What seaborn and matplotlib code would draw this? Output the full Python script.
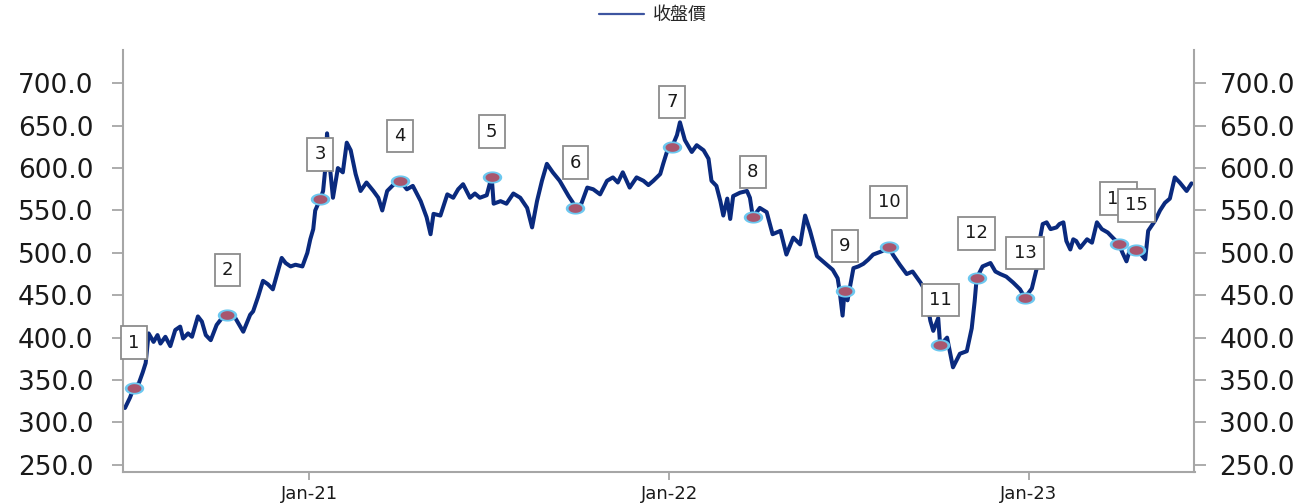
import matplotlib
matplotlib.use("Agg")
import matplotlib.pyplot as plt
import matplotlib.dates as mdates
from matplotlib.lines import Line2D
import numpy as np
import pandas as pd
import seaborn as sns

# ==========================================
# 1. Дані
# ==========================================

dates = [
    "2020-06-28", "2020-07-03", "2020-07-07", "2020-07-12", "2020-07-16", "2020-07-19",
    "2020-07-22", "2020-07-27", "2020-07-31", "2020-08-03", "2020-08-08", "2020-08-13",
    "2020-08-18", "2020-08-23", "2020-08-26", "2020-08-31", "2020-09-04", "2020-09-10",
    "2020-09-14", "2020-09-18", "2020-09-23", "2020-09-29", "2020-10-05", "2020-10-10",
    "2020-10-16", "2020-10-23", "2020-10-26", "2020-11-02", "2020-11-05", "2020-11-10",
    "2020-11-15", "2020-11-20", "2020-11-25", "2020-12-01", "2020-12-04", "2020-12-08",
    "2020-12-13", "2020-12-18", "2020-12-25", "2020-12-30", "2021-01-02", "2021-01-05",
    "2021-01-07", "2021-01-10", "2021-01-12", "2021-01-15", "2021-01-17", "2021-01-19",
    "2021-01-22", "2021-01-25", "2021-01-30", "2021-02-04", "2021-02-08", "2021-02-12",
    "2021-02-17", "2021-02-22", "2021-02-28", "2021-03-07", "2021-03-12", "2021-03-16",
    "2021-03-21", "2021-03-27", "2021-04-03", "2021-04-10", "2021-04-16", "2021-04-24",
    "2021-04-30", "2021-05-04", "2021-05-07", "2021-05-14", "2021-05-21", "2021-05-27",
    "2021-06-01", "2021-06-06", "2021-06-13", "2021-06-18", "2021-06-23", "2021-06-30",
    "2021-07-05", "2021-07-07", "2021-07-14", "2021-07-20", "2021-07-27", "2021-08-03",
    "2021-08-10", "2021-08-15", "2021-08-20", "2021-08-25", "2021-08-30", "2021-09-05",
    "2021-09-12", "2021-09-18", "2021-09-21", "2021-09-25", "2021-09-28", "2021-10-04",
    "2021-10-10", "2021-10-16", "2021-10-23", "2021-10-30", "2021-11-05", "2021-11-10",
    "2021-11-15", "2021-11-22", "2021-11-29", "2021-12-06", "2021-12-11", "2021-12-16",
    "2021-12-23", "2021-12-26", "2021-12-30", "2022-01-04", "2022-01-09", "2022-01-12",
    "2022-01-17", "2022-01-24", "2022-01-29", "2022-02-05", "2022-02-10", "2022-02-13",
    "2022-02-18", "2022-02-22", "2022-02-25", "2022-03-01", "2022-03-04", "2022-03-07",
    "2022-03-14", "2022-03-21", "2022-03-24", "2022-03-27", "2022-04-03", "2022-04-10",
    "2022-04-16", "2022-04-24", "2022-04-30", "2022-05-07", "2022-05-14", "2022-05-19",
    "2022-05-24", "2022-05-31", "2022-06-04", "2022-06-10", "2022-06-16", "2022-06-21",
    "2022-06-23", "2022-06-26", "2022-06-28", "2022-07-01", "2022-07-07", "2022-07-12",
    "2022-07-17", "2022-07-22", "2022-07-27", "2022-08-05", "2022-08-12", "2022-08-16",
    "2022-08-23", "2022-08-30", "2022-09-05", "2022-09-13", "2022-09-18", "2022-09-23",
    "2022-09-26", "2022-10-01", "2022-10-03", "2022-10-10", "2022-10-16", "2022-10-23",
    "2022-10-30", "2022-11-04", "2022-11-07", "2022-11-09", "2022-11-15", "2022-11-23",
    "2022-11-28", "2022-12-03", "2022-12-09", "2022-12-16", "2022-12-23", "2022-12-28",
    "2023-01-04", "2023-01-09", "2023-01-12", "2023-01-15", "2023-01-19", "2023-01-23",
    "2023-01-29", "2023-02-01", "2023-02-05", "2023-02-08", "2023-02-12", "2023-02-15",
    "2023-02-18", "2023-02-22", "2023-03-01", "2023-03-06", "2023-03-11", "2023-03-16",
    "2023-03-22", "2023-03-27", "2023-04-02", "2023-04-06", "2023-04-10", "2023-04-13",
    "2023-04-20", "2023-04-25", "2023-04-29", "2023-05-02", "2023-05-09", "2023-05-14",
    "2023-05-19", "2023-05-24", "2023-05-29", "2023-06-03", "2023-06-10", "2023-06-15",
]

close = [
    317, 329, 341, 346, 359, 370,
    405, 395, 403, 393, 401, 390,
    409, 413, 399, 405, 401, 425,
    419, 403, 397, 415, 424, 427,
    427, 413, 407, 427, 431, 448,
    467, 463, 457, 482, 494, 488,
    484, 486, 484, 500, 516, 528,
    550, 558, 563, 573, 597, 641,
    600, 565, 600, 595, 630, 621,
    593, 573, 583, 573, 565, 550,
    573, 580, 585, 575, 579, 561,
    542, 522, 546, 544, 569, 565,
    575, 581, 565, 570, 565, 568,
    590, 558, 561, 558, 570, 565,
    553, 530, 561, 585, 605, 595,
    585, 573, 567, 560, 553.5, 558,
    577, 575, 569, 585, 589, 583,
    595, 577, 589, 585, 580, 585,
    593, 605, 620, 625, 639, 654,
    633, 619, 627, 621, 611, 585,
    579, 561, 544, 564, 540, 567,
    571, 573, 565, 542, 553, 548,
    522, 526, 498, 518, 510, 544,
    526, 496, 492, 486, 480, 470,
    455, 426, 455, 444, 482, 484,
    487, 492, 498, 502, 507, 498,
    486, 475, 478, 465, 455, 420,
    408, 423, 391, 400, 365, 381,
    384, 411, 443, 470, 484, 488,
    478, 475, 472, 465, 457, 447,
    458, 482, 515, 534, 536, 528,
    530, 534, 536, 514, 504, 516,
    514, 506, 516, 512, 536, 528,
    524, 518, 511, 500, 490, 502,
    503, 498, 492.5, 526, 538, 550,
    559, 564, 589, 583, 573, 582,
]

event_dates = [
    "2020-07-07", "2020-10-10", "2021-01-12", "2021-04-03", "2021-07-05",
    "2021-09-28", "2022-01-04", "2022-03-27", "2022-06-28", "2022-08-12",
    "2022-10-03", "2022-11-09", "2022-12-28", "2023-04-02", "2023-04-20",
]
event_labels = [str(i) for i in range(1, 16)]

y_ticks = [250, 300, 350, 400, 450, 500, 550, 600, 650, 700]

NAVY = "#0a2a7e"
GREY = "#a6a6a6"

# ==========================================
# 2. Стиль
# ==========================================

sns.set_theme(style="white")
plt.rcParams["font.family"] = ["DejaVu Sans", "Noto Sans CJK TC"]

df = pd.DataFrame({"date": pd.to_datetime(dates), "close": close})
ev = df[df["date"].isin(pd.to_datetime(event_dates))].reset_index(drop=True)

# ==========================================
# 3. Графік
# ==========================================

fig = plt.figure(figsize=(13.14, 5.04), dpi=100)
ax = fig.add_axes([123 / 1314, 32 / 504, 1071.5 / 1314, 422 / 504])

sns.lineplot(data=df, x="date", y="close", ax=ax, color=NAVY,
             linewidth=2.9, legend=False, zorder=2)

t = np.linspace(0, 2 * np.pi, 60)
ellipse = np.column_stack([1.6 * np.cos(t), np.sin(t)])
ax.scatter(ev["date"], ev["close"], marker=ellipse, s=14 ** 2,
           color="#6cc8f0", linewidths=0, zorder=3)
ax.scatter(ev["date"], ev["close"], marker=ellipse, s=10 ** 2,
           color="#a8566e", linewidths=0, zorder=4)

for d, v, lab in zip(ev["date"], ev["close"], event_labels):
    ax.annotate(lab, (d, v), xytext=(0, 32.4), textcoords="offset points",
                ha="center", va="center", fontsize=13, color="#1a1a1a",
                bbox=dict(boxstyle="square,pad=0.4", fc="white",
                          ec="#8c8c8c", lw=1.3),
                zorder=5)

ylim = (241.5, 739.3)
ax.set_ylim(*ylim)
ax.set_xlim(pd.Timestamp("2020-06-26"), pd.Timestamp("2023-06-18"))
ax.set_yticks(y_ticks)
ax.yaxis.set_major_formatter(matplotlib.ticker.StrMethodFormatter("{x:.1f}"))
ax.xaxis.set_major_locator(mdates.YearLocator())
ax.xaxis.set_major_formatter(mdates.DateFormatter("%b-%y"))
ax.set_xlabel("")
ax.set_ylabel("")

for s in ["top", "right"]:
    ax.spines[s].set_visible(False)
for s in ["left", "bottom"]:
    ax.spines[s].set_color(GREY)
    ax.spines[s].set_linewidth(1.5)

ax.tick_params(axis="y", left=True, length=8, width=1.3, color=GREY,
               labelsize=19, labelcolor="#1a1a1a", pad=13.5)
ax.tick_params(axis="x", bottom=True, length=5.8, width=1.3, color=GREY,
               labelsize=13, labelcolor="#1a1a1a", pad=3.5)

ax2 = ax.twinx()
ax2.set_ylim(*ylim)
ax2.set_yticks(y_ticks)
ax2.yaxis.set_major_formatter(matplotlib.ticker.StrMethodFormatter("{x:.1f}"))
for s in ["top", "left", "bottom"]:
    ax2.spines[s].set_visible(False)
ax2.spines["right"].set_color(GREY)
ax2.spines["right"].set_linewidth(1.5)
ax2.tick_params(axis="y", right=True, length=8.6, width=1.3, color=GREY,
                labelsize=19, labelcolor="#1a1a1a", pad=9.4)
ax2.grid(False)
ax.grid(False)

handle = Line2D([], [], color="#3d55a0", lw=1.6)
fig.legend([handle], ["收盤價"], loc="center", bbox_to_anchor=(0.497, 0.970),
           frameon=False, fontsize=13, handlelength=2.45, handletextpad=0.5)

fig.savefig("out.png", dpi=100)
